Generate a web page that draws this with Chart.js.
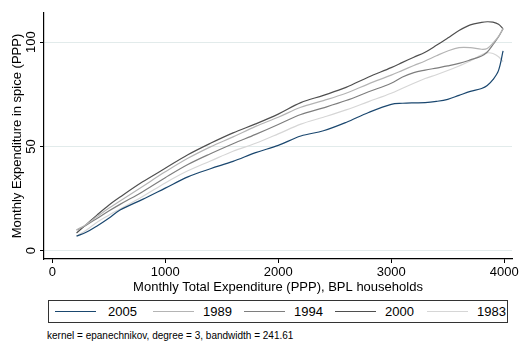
<!DOCTYPE html>
<html>
<head>
    <style>
        body, html {
            margin: 0;
            width: 523px;
            height: 344px;
            background: #fff;
            overflow: hidden;
            font-family: "Liberation Sans", Arial, sans-serif;
        }
        #wrap { position: relative; width: 523px; height: 344px; }
        #kernelChart { position: absolute; left: 0; top: 0; }
        #legendBox {
            position: absolute;
            left: 48px;
            top: 300px;
            width: 460px;
            height: 23px;
            border: 1px solid #333;
            box-sizing: border-box;
        }
        .key {
            position: absolute;
            top: 10px;
            width: 41px;
            height: 0;
            border-top: 1.3px solid;
        }
        .keyLabel {
            position: absolute;
            top: 3px;
            font-size: 13px;
            line-height: 15px;
            color: #000;
        }
        #note {
            position: absolute;
            left: 47px;
            top: 330px;
            font-size: 10px;
            line-height: 12px;
            color: #000;
        }
    </style>
    <script src="https://cdn.jsdelivr.net/npm/chart.js"></script>
</head>
<body>
    <div id="wrap">
        <canvas id="kernelChart" width="523" height="300"></canvas>
        <div id="legendBox"></div>
        <div id="note">kernel = epanechnikov, degree = 3, bandwidth = 241.61</div>
    </div>

    <script>
        // monthly total expenditure grid (PPP)
        const expenditure = [215, 300, 400, 500, 600, 800, 1000, 1200, 1400, 1600, 1800, 2000, 2200, 2400, 2600, 2800, 3000, 3100, 3200, 3300, 3400, 3500, 3600, 3700, 3800, 3850, 3900, 3950, 3990];

        // smoothed spice expenditure per survey year
        const spice2005 = [7.0, 8.8, 12.0, 15.6, 19.5, 24.6, 30.0, 35.4, 39.3, 42.8, 47.0, 50.5, 55.0, 57.5, 61.5, 66.3, 70.2, 70.7, 70.9, 71.0, 71.6, 72.6, 74.5, 76.4, 77.8, 79.2, 82.0, 86.5, 95.8];
        const spice1989 = [9.9, 12.6, 16.5, 20.3, 23.8, 30.8, 37.8, 44.3, 49.8, 54.6, 59.6, 64.0, 68.8, 72.0, 75.5, 80.0, 84.2, 86.5, 88.8, 91.0, 93.5, 95.8, 97.4, 97.4, 96.6, 97.0, 99.5, 102.8, 106.5];
        const spice1994 = [9.9, 12.2, 15.6, 19.0, 22.2, 28.3, 35.0, 41.3, 46.5, 51.3, 55.8, 60.5, 65.3, 68.5, 72.0, 76.2, 80.3, 83.3, 85.4, 86.6, 87.6, 88.6, 89.8, 91.5, 93.4, 95.3, 98.8, 102.6, 106.5];
        const spice2000 = [8.5, 12.5, 17.3, 21.8, 25.7, 33.0, 39.5, 46.0, 51.5, 56.5, 60.8, 65.5, 71.0, 74.5, 78.3, 83.3, 87.8, 90.3, 92.8, 95.2, 98.5, 102.0, 105.6, 108.3, 109.5, 109.8, 109.6, 108.6, 106.5];
        const spice1983 = [7.0, 9.8, 13.8, 17.0, 20.0, 26.0, 32.5, 38.3, 43.0, 47.7, 51.5, 56.0, 60.7, 64.0, 67.5, 71.5, 75.5, 77.9, 80.3, 82.6, 84.4, 86.4, 88.6, 91.0, 94.0, 94.9, 94.6, 93.0, 90.7];

        const seriesLabels = ['2005', '1989', '1994', '2000', '1983'];
        const seriesValues = [spice2005, spice1989, spice1994, spice2000, spice1983];
        const seriesColors = ['#1a476f', '#b4b4b4', '#7e7e7e', '#4f4f4f', '#d6d6d6'];

        const xTicks = [0, 1000, 2000, 3000, 4000];
        const yTicks = [0, 50, 100];

        const xTitle = 'Monthly Total Expenditure (PPP), BPL households';
        const yTitle = 'Monthly Expenditure in spice (PPP)';

        Chart.defaults.font.family = '"Liberation Sans", Arial, sans-serif';
        Chart.defaults.color = '#000';

        const ctx = document.getElementById('kernelChart').getContext('2d');
        const chart = new Chart(ctx, {
            type: 'line',
            data: {
                datasets: seriesLabels.map((lab, i) => ({
                    label: lab,
                    data: expenditure.map((x, j) => ({ x: x, y: seriesValues[i][j] })),
                    borderColor: seriesColors[i],
                    borderWidth: 1.2,
                    pointRadius: 0,
                    tension: 0.35,
                    fill: false
                }))
            },
            options: {
                responsive: false,
                animation: false,
                devicePixelRatio: 1,
                layout: { padding: { top: 13, right: 11, left: 0, bottom: 0 } },
                plugins: {
                    legend: { display: false },
                    tooltip: { enabled: false }
                },
                scales: {
                    x: {
                        type: 'linear',
                        min: -73,
                        max: 4069,
                        afterBuildTicks: s => { s.ticks = xTicks.map(v => ({ value: v })); },
                        afterFit: s => { s.height = 41; },
                        grid: { drawOnChartArea: false, tickLength: 4, tickColor: '#000', tickWidth: 1 },
                        border: { color: '#000', width: 1.2 },
                        ticks: { color: '#000', font: { size: 13 }, padding: 2, maxRotation: 0, callback: v => String(v) },
                        title: { display: true, text: xTitle, color: '#000', font: { size: 13 }, padding: { top: 0, bottom: 5 } }
                    },
                    y: {
                        min: -4,
                        max: 114,
                        afterBuildTicks: s => { s.ticks = yTicks.map(v => ({ value: v })); },
                        afterFit: s => { s.width = 44; },
                        grid: { color: '#e2ebeb', lineWidth: 1, tickLength: 4, tickColor: '#000', tickWidth: 1 },
                        border: { color: '#000', width: 1.2 },
                        ticks: { color: '#000', font: { size: 13 }, minRotation: 90, maxRotation: 90, crossAlign: 'center', padding: -2, callback: v => String(v) },
                        title: { display: true, text: yTitle, color: '#000', font: { size: 13 }, padding: { top: 10, bottom: 0 } }
                    }
                }
            }
        });

        // legend box underneath, Stata style
        const keyLeft = [6, 104, 195, 286, 378];
        const labelLeft = [59, 154, 245, 336, 428];
        const box = document.getElementById('legendBox');
        seriesLabels.forEach((lab, i) => {
            const k = document.createElement('div');
            k.className = 'key';
            k.style.left = keyLeft[i] + 'px';
            k.style.borderTopColor = seriesColors[i];
            box.appendChild(k);
            const t = document.createElement('div');
            t.className = 'keyLabel';
            t.style.left = labelLeft[i] + 'px';
            t.textContent = lab;
            box.appendChild(t);
        });
    </script>
</body>
</html>
